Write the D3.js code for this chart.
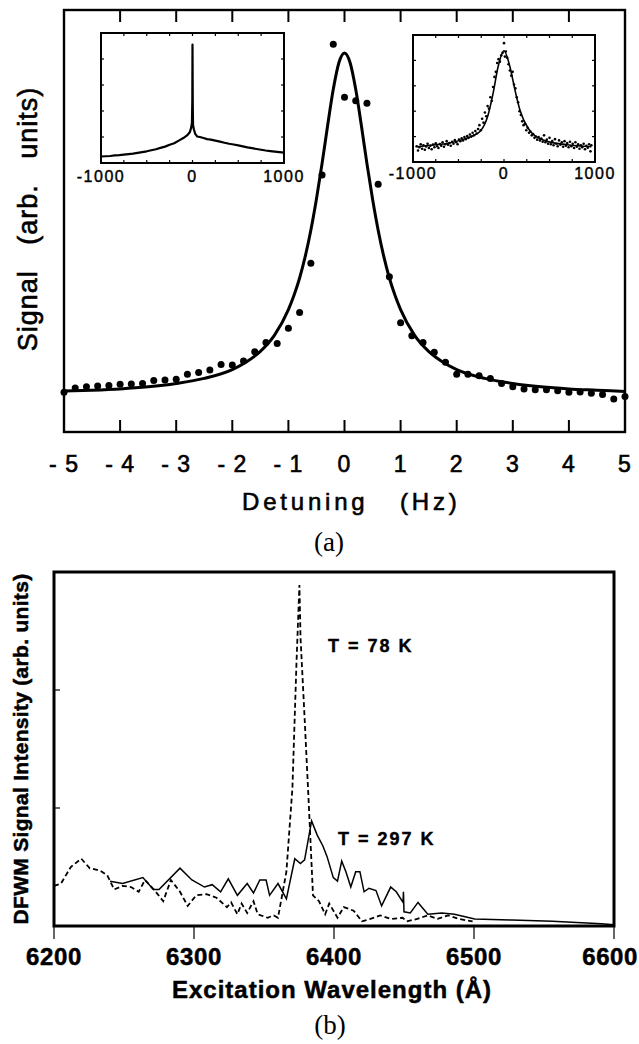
<!DOCTYPE html>
<html>
<head>
<meta charset="utf-8">
<script src="https://cdn.jsdelivr.net/npm/d3@7"></script>
<style>
  html, body { margin: 0; padding: 0; background: #fff; }
  svg { display: block; }
</style>
</head>
<body>
<script>
// ---- (a) detuning scan: measured points and the fitted line ----
const detuningTicks = [-5, -4, -3, -2, -1, 0, 1, 2, 3, 4, 5];
const detuningDots = [
  [-5.0, 9.4], [-4.8, 10.4], [-4.6, 10.7], [-4.4, 10.9], [-4.2, 11.0], [-4.0, 11.3],
  [-3.8, 11.4], [-3.6, 11.5], [-3.4, 12.2], [-3.2, 12.3], [-3.0, 12.5], [-2.8, 13.7],
  [-2.6, 14.1], [-2.4, 14.7], [-2.2, 16.0], [-2.0, 15.9], [-1.8, 16.8], [-1.6, 19.0],
  [-1.4, 21.2], [-1.2, 21.0], [-1.0, 24.6], [-0.8, 28.3], [-0.6, 40.0], [-0.4, 60.9],
  [-0.2, 91.9], [0.0, 79.3], [0.2, 78.5], [0.4, 77.9], [0.6, 58.7], [0.8, 36.8],
  [1.0, 25.9], [1.2, 22.8], [1.4, 21.2], [1.6, 18.9], [1.8, 16.5], [2.0, 13.7],
  [2.2, 13.7], [2.4, 13.3], [2.6, 12.7], [2.8, 11.5], [3.0, 10.7], [3.2, 10.2],
  [3.4, 10.0], [3.6, 10.0], [3.8, 9.8], [4.0, 9.4], [4.2, 9.5], [4.4, 9.2],
  [4.6, 8.9], [4.8, 7.8], [5.0, 8.4]
];
const fitLine = [
  [-5, 9.7], [-4.5, 9.9], [-4, 10.2], [-3.5, 10.7], [-3, 11.5], [-2.5, 12.7], [-2, 14.8],
  [-1.75, 16.6], [-1.5, 19.1], [-1.25, 22.9], [-1, 29.0], [-0.9, 32.4], [-0.8, 36.5],
  [-0.7, 41.6], [-0.6, 47.8], [-0.5, 55.2], [-0.4, 63.6], [-0.3, 72.7], [-0.2, 81.2],
  [-0.1, 87.5], [0, 89.8], [0.1, 87.5], [0.2, 81.2], [0.3, 72.7], [0.4, 63.6],
  [0.5, 55.2], [0.6, 47.8], [0.7, 41.6], [0.8, 36.5], [0.9, 32.4], [1, 29.0],
  [1.25, 22.9], [1.5, 19.1], [1.75, 16.6], [2, 14.8], [2.5, 12.7], [3, 11.5],
  [3.5, 10.7], [4, 10.2], [4.5, 9.9], [5, 9.6]
];

// ---- insets ----
const insetTickLabels = [-1000, 0, 1000];
const insetXTicks = [-1000, -750, -500, -250, 0, 250, 500, 750, 1000];
const insetYTicks = [1, 2, 3, 4];
const leftInsetTrace = [
  [-1000, 0.25], [-950, 0.26], [-900, 0.27], [-850, 0.29], [-800, 0.30], [-750, 0.32],
  [-700, 0.34], [-650, 0.36], [-600, 0.39], [-550, 0.42], [-500, 0.45], [-450, 0.49],
  [-400, 0.53], [-350, 0.58], [-300, 0.63], [-250, 0.70], [-200, 0.76], [-150, 0.86],
  [-100, 0.96], [-60, 1.06], [-30, 1.18], [-15, 1.35], [-6, 1.55], [-2, 2.4],
  [0, 4.55], [3, 2.2], [6, 1.45], [15, 1.30], [30, 1.12], [50, 1.02], [80, 1.00],
  [120, 0.96], [160, 0.92], [200, 0.90], [250, 0.86], [300, 0.82], [350, 0.78],
  [400, 0.74], [450, 0.71], [500, 0.68], [550, 0.64], [600, 0.60], [650, 0.57],
  [700, 0.54], [750, 0.51], [800, 0.48], [850, 0.46], [900, 0.44], [950, 0.42], [1000, 0.40]
];
const rightInsetFit = [
  [-960, 0.60], [-800, 0.66], [-600, 0.75], [-410, 0.94], [-265, 1.2], [-175, 1.85],
  [-120, 2.7], [-65, 3.75], [0, 4.38], [65, 3.75], [120, 2.84], [175, 2.05],
  [265, 1.33], [430, 0.87], [690, 0.68], [960, 0.60]
];
const rightInsetDots = [
  [-960, 0.62], [-945, 0.45], [-930, 0.58], [-915, 0.70], [-900, 0.52], [-885, 0.66],
  [-870, 0.48], [-855, 0.61], [-840, 0.72], [-825, 0.55], [-810, 0.64], [-795, 0.50],
  [-780, 0.69], [-765, 0.58], [-750, 0.74], [-735, 0.62], [-720, 0.55], [-705, 0.71],
  [-690, 0.64], [-675, 0.78], [-660, 0.60], [-645, 0.70], [-630, 0.82], [-615, 0.68],
  [-600, 0.75], [-585, 0.64], [-570, 0.80], [-555, 0.72], [-540, 0.86], [-525, 0.78],
  [-510, 0.70], [-495, 0.88], [-480, 0.82], [-465, 0.93], [-450, 0.85], [-435, 0.98],
  [-420, 0.90], [-405, 1.02], [-390, 0.95], [-375, 1.08], [-360, 1.00], [-345, 1.15],
  [-330, 1.05], [-315, 1.22], [-300, 1.12], [-285, 1.30], [-270, 1.45], [-255, 1.25],
  [-240, 1.70], [-225, 1.55], [-210, 1.95], [-195, 1.80], [-180, 2.20], [-165, 2.10],
  [-150, 2.55], [-135, 2.40], [-120, 2.95], [-105, 3.35], [-90, 3.55], [-75, 3.90],
  [-60, 4.05], [-45, 3.95], [-30, 4.20], [-15, 4.30], [0, 4.68], [10, 4.15],
  [20, 4.35], [35, 4.10], [50, 3.85], [65, 3.60], [80, 3.40], [95, 3.55],
  [110, 3.05], [125, 2.90], [140, 2.55], [155, 2.35], [170, 2.00], [185, 1.85],
  [200, 1.60], [215, 1.45], [230, 1.50], [245, 1.25], [260, 1.35], [275, 1.15],
  [290, 1.20], [305, 1.05], [320, 1.10], [335, 0.95], [350, 1.00], [365, 0.88],
  [380, 0.98], [395, 0.85], [410, 0.92], [425, 0.80], [440, 1.05], [455, 0.78],
  [470, 0.88], [485, 0.72], [500, 0.95], [515, 0.70], [530, 0.82], [545, 0.66],
  [560, 0.90], [575, 0.72], [590, 0.62], [605, 0.85], [620, 0.68], [635, 0.78],
  [650, 0.60], [665, 0.82], [680, 0.64], [695, 0.75], [710, 0.58], [725, 0.80],
  [740, 0.62], [755, 0.72], [770, 0.55], [785, 0.78], [800, 0.60], [815, 0.70],
  [830, 0.52], [845, 0.66], [860, 0.58], [875, 0.72], [890, 0.50], [905, 0.64],
  [920, 0.56], [935, 0.70], [950, 0.42], [960, 0.66]
];

// ---- (b) DFWM spectra ----
const wavelengthTicks = [6200, 6300, 6400, 6500, 6600];
const intensityTicks = [1, 2];
const spectrum78K = [
  [6200, 0.34], [6205, 0.36], [6212, 0.50], [6219.5, 0.57], [6225.5, 0.49], [6233, 0.47],
  [6238, 0.43], [6243, 0.31], [6249, 0.34], [6255, 0.33], [6260.5, 0.29], [6265, 0.39],
  [6272, 0.30], [6278, 0.21], [6283.5, 0.39], [6290, 0.29], [6295.5, 0.17], [6301.5, 0.26],
  [6309, 0.27], [6316, 0.24], [6323.5, 0.16], [6326.5, 0.20], [6331, 0.10], [6334, 0.19],
  [6338, 0.11], [6342.5, 0.21], [6345.5, 0.10], [6352.5, 0.07], [6357, 0.09], [6360, 0.07],
  [6366, 0.46], [6370.3, 1.17], [6373.2, 2.23], [6375.3, 2.89], [6376.1, 2.44], [6379.1, 1.74],
  [6382, 1.03], [6385, 0.26], [6389.3, 0.21], [6393.7, 0.10], [6396.6, 0.19], [6402.5, 0.07],
  [6407, 0.16], [6414, 0.13], [6420, 0.04], [6426, 0.06], [6433, 0.09], [6440.5, 0.06],
  [6449, 0.07], [6452, 0.04], [6459.5, 0.06], [6467, 0.09], [6474, 0.06], [6481.5, 0.09],
  [6489, 0.06], [6499, 0.04]
];
const spectrum297K = [
  [6240, 0.38], [6249, 0.36], [6263.5, 0.41], [6271, 0.31], [6275, 0.31], [6290, 0.49],
  [6298.5, 0.39], [6307.5, 0.33], [6313, 0.35], [6319, 0.29], [6324.5, 0.40], [6331, 0.26],
  [6338, 0.36], [6342.5, 0.28], [6347, 0.39], [6351.5, 0.39], [6354, 0.26], [6360, 0.36],
  [6366, 0.23], [6372, 0.57], [6376, 0.53], [6379, 0.56], [6384, 0.89], [6388, 0.77],
  [6392, 0.68], [6395, 0.59], [6399.5, 0.41], [6402.5, 0.38], [6405.5, 0.55], [6408.5, 0.46],
  [6412, 0.33], [6415.5, 0.46], [6418.5, 0.46], [6421.5, 0.29], [6425, 0.32], [6430, 0.30],
  [6434, 0.17], [6440.5, 0.33], [6444.5, 0.29], [6449.3, 0.20], [6449.6, 0.29], [6450, 0.12],
  [6454.5, 0.11], [6460, 0.20], [6467, 0.10], [6477, 0.11], [6486, 0.10], [6500.5, 0.06],
  [6527, 0.05], [6556, 0.04], [6591, 0.02], [6600, 0.01]
];

const width = 639, height = 1044;
const sans = "'Liberation Sans', Arial, Helvetica, sans-serif";
const serif = "'Liberation Serif', 'Times New Roman', serif";

const svg = d3.select("body").append("svg")
  .attr("width", width)
  .attr("height", height)
  .attr("viewBox", `0 0 ${width} ${height}`);

svg.append("rect").attr("width", width).attr("height", height).attr("fill", "#fff");

// ================= panel (a) =================
const x = d3.scaleLinear().domain([-5, 5]).range([64, 625]);
const y = d3.scaleLinear().domain([0, 100]).range([432, 10]);
const gA = svg.append("g");

gA.append("rect")
  .attr("x", x(-5)).attr("y", y(100))
  .attr("width", x(5) - x(-5)).attr("height", y(0) - y(100))
  .attr("fill", "none").attr("stroke", "#000").attr("stroke-width", 2.4);

// inward ticks top and bottom
detuningTicks.forEach((t) => {
  gA.append("line")
    .attr("x1", x(t)).attr("x2", x(t))
    .attr("y1", y(100)).attr("y2", y(100) + 12)
    .attr("stroke", "#000").attr("stroke-width", 2);
  gA.append("line")
    .attr("x1", x(t)).attr("x2", x(t))
    .attr("y1", y(0)).attr("y2", y(0) - 12)
    .attr("stroke", "#000").attr("stroke-width", 2);
  gA.append("text")
    .attr("x", x(t)).attr("y", 472)
    .attr("text-anchor", "middle")
    .attr("font-family", sans).attr("font-size", 23)
    .attr("stroke", "#000").attr("stroke-width", 0.6)
    .attr("letter-spacing", 1)
    .attr("xml:space", "preserve")
    .text(t < 0 ? "- " + Math.abs(t) : String(t));
});

// fitted line
const fitPath = d3.line()
  .x((d) => x(d[0]))
  .y((d) => y(d[1]))
  .curve(d3.curveMonotoneX);

gA.append("path")
  .datum(fitLine)
  .attr("d", fitPath)
  .attr("fill", "none").attr("stroke", "#000").attr("stroke-width", 3);

gA.selectAll(".dot")
  .data(detuningDots)
  .enter()
  .append("circle")
  .attr("cx", (d) => x(d[0]))
  .attr("cy", (d) => y(d[1]))
  .attr("r", 3.5)
  .attr("fill", "#000");

// axis titles
gA.append("text")
  .attr("transform", "translate(37, 219) rotate(-90)")
  .attr("text-anchor", "middle")
  .attr("font-family", sans).attr("font-size", 27)
  .attr("stroke", "#000").attr("stroke-width", 0.6)
  .attr("letter-spacing", 1)
  .attr("xml:space", "preserve")
  .text("Signal   (arb.   units)");

gA.append("text")
  .attr("x", 242).attr("y", 510)
  .attr("font-family", sans).attr("font-size", 24)
  .attr("stroke", "#000").attr("stroke-width", 0.6)
  .attr("letter-spacing", 3.8)
  .text("Detuning");
gA.append("text")
  .attr("x", 400).attr("y", 510)
  .attr("font-family", sans).attr("font-size", 24)
  .attr("stroke", "#000").attr("stroke-width", 0.6)
  .attr("letter-spacing", 3.8)
  .text("(Hz)");

gA.append("text")
  .attr("x", 329).attr("y", 551)
  .attr("text-anchor", "middle")
  .attr("font-family", serif).attr("font-size", 27)
  .text("(a)");

// ---- insets ----
function drawInset(x0, x1, y0, y1, labelY) {
  const xs = d3.scaleLinear().domain([-1000, 1000]).range([x0, x1]);
  const ys = d3.scaleLinear().domain([0, 5]).range([y1, y0]);
  const g = svg.append("g");
  g.append("rect")
    .attr("x", x0).attr("y", y0)
    .attr("width", x1 - x0).attr("height", y1 - y0)
    .attr("fill", "#fff").attr("stroke", "#000").attr("stroke-width", 2);
  insetXTicks.slice(1, -1).forEach((t) => {
    g.append("line").attr("x1", xs(t)).attr("x2", xs(t))
      .attr("y1", y0).attr("y2", y0 + 3).attr("stroke", "#000").attr("stroke-width", 1.2);
    g.append("line").attr("x1", xs(t)).attr("x2", xs(t))
      .attr("y1", y1).attr("y2", y1 - 3).attr("stroke", "#000").attr("stroke-width", 1.2);
  });
  insetYTicks.forEach((t) => {
    g.append("line").attr("x1", x0).attr("x2", x0 + 3)
      .attr("y1", ys(t)).attr("y2", ys(t)).attr("stroke", "#000").attr("stroke-width", 1.2);
    g.append("line").attr("x1", x1).attr("x2", x1 - 3)
      .attr("y1", ys(t)).attr("y2", ys(t)).attr("stroke", "#000").attr("stroke-width", 1.2);
  });
  insetTickLabels.forEach((t) => {
    g.append("text")
      .attr("x", xs(t)).attr("y", labelY)
      .attr("text-anchor", "middle")
      .attr("font-family", sans).attr("font-size", 16)
      .attr("stroke", "#000").attr("stroke-width", 0.4)
      .attr("letter-spacing", 1.5)
      .text(String(t));
  });
  return { g, xs, ys };
}

const insetL = drawInset(101, 284, 33, 163, 182);
insetL.g.append("path")
  .datum(leftInsetTrace)
  .attr("d", d3.line().x((d) => insetL.xs(d[0])).y((d) => insetL.ys(d[1])))
  .attr("fill", "none").attr("stroke", "#000").attr("stroke-width", 2.2)
  .attr("stroke-linejoin", "round");

const insetR = drawInset(413, 595, 35, 162, 179);
insetR.g.append("path")
  .datum(rightInsetFit)
  .attr("d", d3.line().x((d) => insetR.xs(d[0])).y((d) => insetR.ys(d[1])).curve(d3.curveMonotoneX))
  .attr("fill", "none").attr("stroke", "#000").attr("stroke-width", 1.6);
insetR.g.selectAll(".idot")
  .data(rightInsetDots)
  .enter()
  .append("circle")
  .attr("cx", (d) => insetR.xs(d[0]))
  .attr("cy", (d) => insetR.ys(d[1]))
  .attr("r", 1.3)
  .attr("fill", "#000");

// ================= panel (b) =================
const xb = d3.scaleLinear().domain([6200, 6600]).range([54, 614]);
const yb = d3.scaleLinear().domain([0, 3]).range([926, 572]);
const gB = svg.append("g");

const specLine = d3.line().x((d) => xb(d[0])).y((d) => yb(d[1]));

gB.append("path")
  .datum(spectrum78K)
  .attr("d", specLine)
  .attr("fill", "none").attr("stroke", "#000").attr("stroke-width", 1.8)
  .attr("stroke-dasharray", "5,3");

gB.append("path")
  .datum(spectrum297K)
  .attr("d", specLine)
  .attr("fill", "none").attr("stroke", "#000").attr("stroke-width", 1.5);

gB.append("rect")
  .attr("x", xb(6200)).attr("y", yb(3))
  .attr("width", xb(6600) - xb(6200)).attr("height", yb(0) - yb(3))
  .attr("fill", "none").attr("stroke", "#000").attr("stroke-width", 3);

wavelengthTicks.forEach((t) => {
  gB.append("line")
    .attr("x1", xb(t)).attr("x2", xb(t))
    .attr("y1", yb(0)).attr("y2", yb(0) + 13)
    .attr("stroke", "#000").attr("stroke-width", 1.2);
  const label = gB.append("text")
    .attr("x", xb(t)).attr("y", 965)
    .attr("text-anchor", "middle")
    .attr("font-family", sans).attr("font-size", 24).attr("font-weight", "bold")
    .attr("stroke", "#000").attr("stroke-width", 0.5)
    .attr("letter-spacing", 0.6)
    .text(String(t));
  // keep the last label inside the page, as in the print
  const w = label.node().getComputedTextLength();
  if (xb(t) + w / 2 > width - 1) label.attr("x", width - 1 - w / 2);
});

intensityTicks.forEach((t) => {
  gB.append("line")
    .attr("x1", xb(6200)).attr("x2", xb(6200) + 6)
    .attr("y1", yb(t)).attr("y2", yb(t))
    .attr("stroke", "#000").attr("stroke-width", 1.2);
});

gB.append("text")
  .attr("x", 332).attr("y", 998)
  .attr("text-anchor", "middle")
  .attr("font-family", sans).attr("font-size", 24).attr("font-weight", "bold")
  .attr("stroke", "#000").attr("stroke-width", 0.5)
  .attr("letter-spacing", 1)
  .text("Excitation Wavelength (Å)");

gB.append("text")
  .attr("transform", "translate(28, 749) rotate(-90)")
  .attr("text-anchor", "middle")
  .attr("font-family", sans).attr("font-size", 21).attr("font-weight", "bold")
  .attr("stroke", "#000").attr("stroke-width", 0.5)
  .attr("letter-spacing", 0.3)
  .text("DFWM Signal Intensity (arb. units)");

gB.append("text")
  .attr("x", 328).attr("y", 652)
  .attr("font-family", sans).attr("font-size", 18).attr("font-weight", "bold")
  .attr("stroke", "#000").attr("stroke-width", 0.4)
  .attr("letter-spacing", 2)
  .text("T = 78 K");

gB.append("text")
  .attr("x", 338).attr("y", 845)
  .attr("font-family", sans).attr("font-size", 18).attr("font-weight", "bold")
  .attr("stroke", "#000").attr("stroke-width", 0.4)
  .attr("letter-spacing", 2)
  .text("T = 297 K");

gB.append("text")
  .attr("x", 330).attr("y", 1034)
  .attr("text-anchor", "middle")
  .attr("font-family", serif).attr("font-size", 27)
  .text("(b)");
</script>
</body>
</html>
